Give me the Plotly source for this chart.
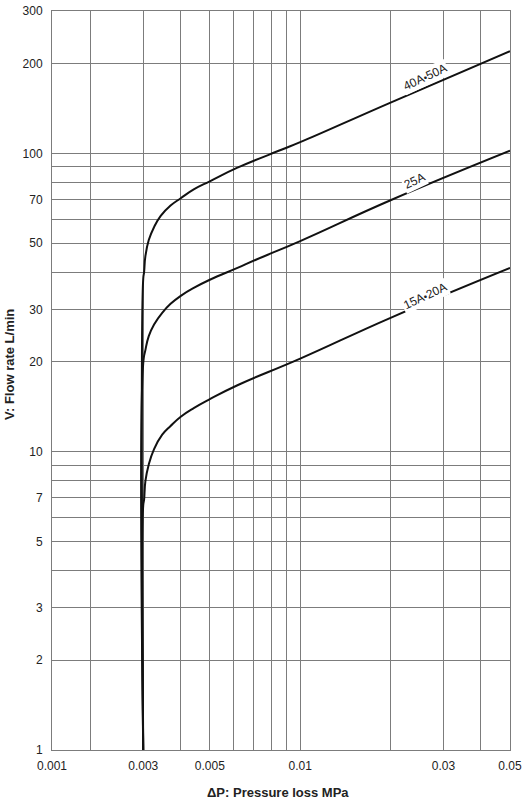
import plotly.graph_objects as go
import math

# curve data (pressure loss MPa, flow rate L/min)
dp_40a = [0.003, 0.003, 0.00302, 0.00305, 0.00313, 0.00326, 0.00343, 0.0037, 0.004,
          0.00442, 0.005, 0.00618, 0.0087, 0.01, 0.02, 0.05]
flow_40a = [1, 38, 40, 45.2, 51.2, 56.6, 61.7, 66.8, 70.7,
            75.7, 80.6, 89.5, 103, 109, 148, 220]

dp_25a = [0.003, 0.003, 0.00305, 0.00313, 0.00326, 0.00347, 0.0037, 0.004,
          0.00442, 0.005, 0.00618, 0.00712, 0.01, 0.02, 0.05]
flow_25a = [1, 19.8, 21.9, 24.4, 26.7, 29.2, 31.3, 33.3,
            35.4, 37.7, 41.3, 44.0, 50.8, 69.6, 102]

dp_15a = [0.003, 0.003, 0.00302, 0.00305, 0.00313, 0.00326, 0.00347, 0.0037, 0.004,
          0.00442, 0.005, 0.00618, 0.01, 0.02, 0.05]
flow_15a = [1, 6.6, 6.9, 7.96, 9.06, 10.2, 11.4, 12.2, 13.1,
            14.0, 15.0, 16.7, 20.5, 28.1, 41.3]

dot = "<span style='font-size:10px'>•</span>"
series_names = ["40A" + dot + "50A", "25A", "15A" + dot + "20A"]
label_x = [0.0261, 0.024, 0.0261]
label_y = [180, 80.6, 33.3]

# axis ticks / gridlines
x_grid = [0.002, 0.003, 0.004, 0.005, 0.006, 0.007, 0.008, 0.009, 0.01,
          0.02, 0.03, 0.04, 0.05]
x_labels = {0.003: "0.003", 0.005: "0.005", 0.01: "0.01", 0.03: "0.03", 0.05: "0.05"}
x_left = 0.00149   # left edge of the plot, labelled 0.001 on the original

y_grid = [1, 2, 3, 4, 5, 6, 7, 8, 9, 10, 20, 30, 40, 50, 60, 70, 80, 90, 100, 200, 300]
y_labels = [1, 2, 3, 5, 7, 10, 20, 30, 50, 70, 100, 200, 300]

GRID = "#7c7c7c"
FONT = "Liberation Sans, Arial, sans-serif"


def main():
    fig = go.Figure()
    for xs, ys in [(dp_40a, flow_40a), (dp_25a, flow_25a), (dp_15a, flow_15a)]:
        fig.add_trace(go.Scatter(x=xs, y=ys, mode="lines",
                                 line=dict(color="#111111", width=2, shape="spline", smoothing=1.3),
                                 hoverinfo="skip", showlegend=False))

    xt = [x_left] + x_grid
    xtext = ["0.001"] + [x_labels.get(v, "") for v in x_grid]
    ytext = [str(v) if v in y_labels else "" for v in y_grid]

    fig.update_xaxes(type="log", range=[math.log10(x_left), math.log10(0.05)],
                     tickvals=xt, ticktext=xtext, ticks="", ticklabelstandoff=5,
                     ticklabeloverflow="allow",
                     showgrid=True, gridcolor=GRID, gridwidth=1, automargin=False,
                     showline=True, linecolor=GRID, linewidth=1, mirror=True,
                     zeroline=False, tickfont=dict(size=12, color="#222"))
    fig.update_yaxes(type="log", range=[0, math.log10(300)],
                     tickvals=y_grid, ticktext=ytext, ticks="", ticklabelstandoff=6,
                     ticklabeloverflow="allow",
                     showgrid=True, gridcolor=GRID, gridwidth=1, automargin=False,
                     showline=True, linecolor=GRID, linewidth=1, mirror=True,
                     zeroline=False, tickfont=dict(size=12, color="#222"))

    for name, lx, ly in zip(series_names, label_x, label_y):
        fig.add_annotation(x=math.log10(lx), y=math.log10(ly), text=name, showarrow=False,
                           textangle=-25, bgcolor="white", borderpad=1,
                           font=dict(size=12, color="#222"))

    fig.add_annotation(xref="paper", yref="paper", x=0.4934, y=-0.058,
                       xanchor="center", yanchor="middle",
                       text="<b>ΔP: Pressure loss MPa</b>", showarrow=False,
                       font=dict(size=13, color="#222"))
    fig.add_annotation(xref="paper", yref="paper", x=-0.0917, y=0.521,
                       xanchor="center", yanchor="middle",
                       text="<b>V: Flow rate L/min</b>", showarrow=False, textangle=-90,
                       font=dict(size=13, color="#222"))

    fig.update_layout(width=525, height=800, margin=dict(l=52, r=15, t=11, b=50, autoexpand=False),
                      plot_bgcolor="white", paper_bgcolor="white",
                      font=dict(family=FONT))
    # drop the default 8px body margin so the figure fills the window
    fig.write_html("out.html", config={"displayModeBar": False},
                   post_script="document.body.style.margin='0';"
                               "document.body.style.overflow='hidden';")


if __name__ == "__main__":
    main()
